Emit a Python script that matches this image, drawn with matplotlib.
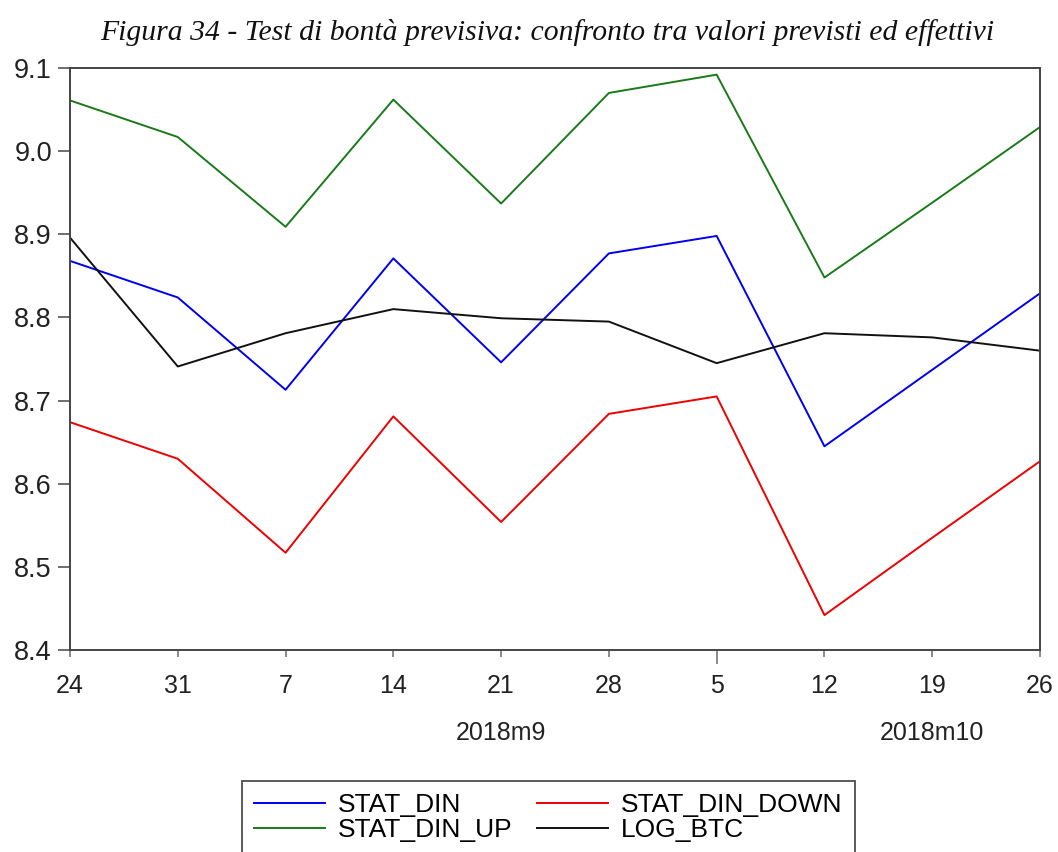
import matplotlib
matplotlib.use("Agg")
import matplotlib.pyplot as plt
from matplotlib.transforms import blended_transform_factory

# Weekly dates (day of month) and the month labels shown beneath them
day_labels = ["24", "31", "7", "14", "21", "28", "5", "12", "19", "26"]
month_labels = ["2018m9", "2018m10"]
month_positions = [4, 8]

# Forecast (static dynamic) with its bands, and the actual log price
stat_din = [8.868, 8.824, 8.713, 8.871, 8.746, 8.877, 8.898, 8.645, 8.737, 8.829]
stat_din_down = [8.674, 8.630, 8.517, 8.681, 8.554, 8.684, 8.705, 8.442, 8.535, 8.627]
stat_din_up = [9.061, 9.017, 8.909, 9.062, 8.937, 9.070, 9.092, 8.848, 8.938, 9.029]
log_btc = [8.896, 8.741, 8.781, 8.810, 8.799, 8.795, 8.745, 8.781, 8.776, 8.760]

y_ticks = [8.4, 8.5, 8.6, 8.7, 8.8, 8.9, 9.0, 9.1]

title = "Figura 34 - Test di bontà previsiva: confronto tra valori previsti ed effettivi"

W, H = 1058, 852
fig = plt.figure(figsize=(W / 100, H / 100), dpi=100)
ax = fig.add_axes([70 / W, 1 - 650 / H, (1040 - 70) / W, (650 - 68) / H])

x = list(range(len(day_labels)))
lw = 1.4
l1, = ax.plot(x, stat_din, color="#0000ee", lw=lw, label="STAT_DIN")
l2, = ax.plot(x, stat_din_down, color="#ee0000", lw=lw, label="STAT_DIN_DOWN")
l3, = ax.plot(x, stat_din_up, color="#1a7a1a", lw=lw, label="STAT_DIN_UP")
l4, = ax.plot(x, log_btc, color="#111111", lw=lw, label="LOG_BTC")

ax.set_xlim(0, len(x) - 1)
ax.set_ylim(y_ticks[0], y_ticks[-1])
ax.set_yticks(y_ticks)
ax.set_yticklabels([f"{v:.1f}" for v in y_ticks])
ax.set_xticks(x)
ax.set_xticklabels(day_labels)

font = "Liberation Sans"
for lab in ax.get_xticklabels():
    lab.set_fontfamily(font)
    lab.set_fontsize(18)
    lab.set_color("#222222")
for lab in ax.get_yticklabels():
    lab.set_fontfamily(font)
    lab.set_fontsize(19.5)
    lab.set_color("#222222")

for s in ax.spines.values():
    s.set_color("#444444")
    s.set_linewidth(1.4)

ax.tick_params(axis="y", direction="out", length=9, width=1.2, color="#555555", pad=4)
ax.tick_params(axis="x", direction="out", length=5, width=1.2, color="#777777", pad=12)
# Longer tick at the start of the new month
ax.xaxis.get_major_ticks()[6].tick1line.set_markersize(10)

tr = blended_transform_factory(ax.transData, ax.transAxes)
for pos, lab in zip(month_positions, month_labels):
    ax.text(pos, (650 - 733) / 582, lab, transform=tr, ha="center", va="center",
            fontsize=18, fontfamily=font, color="#222222")

fig.text(547 / W, 1 - 32 / H, title, ha="center", va="center",
         fontsize=21.4, fontstyle="italic", fontfamily="Liberation Serif", color="#111111")

leg = fig.legend(handles=[l1, l3, l2, l4],
                 labels=["STAT_DIN", "STAT_DIN_UP", "STAT_DIN_DOWN", "LOG_BTC"],
                 ncol=2, loc="upper left", bbox_to_anchor=(242 / W, 1 - 781 / H),
                 borderaxespad=0, frameon=True, fancybox=False, edgecolor="#222222",
                 prop={"family": font, "size": 19}, handlelength=2.7,
                 handletextpad=0.5, columnspacing=0.9, labelspacing=0.06,
                 borderpad=0.45)
leg.get_frame().set_linewidth(1.3)

fig.savefig("out.png", dpi=100, facecolor="white")
